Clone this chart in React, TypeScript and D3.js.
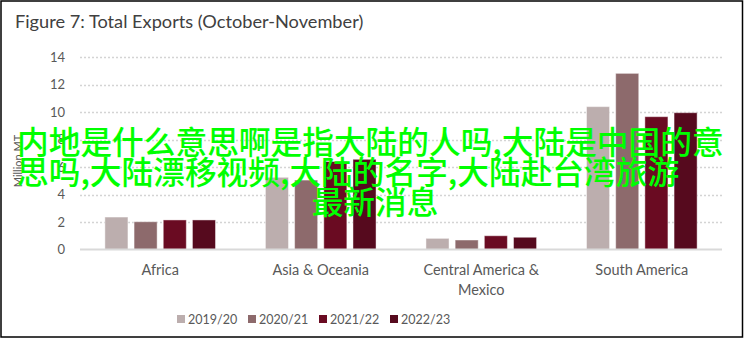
import React from "react";
import * as d3 from "d3";

const categories = ["Africa", "Asia & Oceania", "Central America & Mexico", "South America"];
const categoryLines = [["Africa"], ["Asia & Oceania"], ["Central America &", "Mexico"], ["South America"]];
const seriesNames = ["2019/20", "2020/21", "2021/22", "2022/23"];
const s2019 = [2.36, 5.25, 0.81, 10.39];
const s2020 = [2.02, 5.05, 0.69, 12.81];
const s2021 = [2.15, 6.4, 1.0, 9.66];
const s2022 = [2.15, 6.56, 0.89, 9.95];
const seriesValues = [s2019, s2020, s2021, s2022];
const colors = ["#bcaeae", "#8d6a6c", "#6a0b22", "#560a1e"];
const yTicks = [0, 2, 4, 6, 8, 10, 12, 14];
const title = "Figure 7: Total Exports (October-November)";
const yLabel = "Million MT";
const overlayLines = [
  "内地是什么意思啊是指大陆的人吗,大陆是中国的意",
  "思吗,大陆漂移视频,大陆的名字,大陆赴台湾旅游",
  "最新消息",
];

export default function App() {
  const W = 745, H = 340;
  const left = 80, right = 722, top = 57, bottom = 249.5;
  const x0 = d3.scaleBand<string>().domain(categories).range([left, right]).paddingInner(0.311).paddingOuter(0.155);
  const x1 = d3.scaleBand<string>().domain(seriesNames).range([0, x0.bandwidth()]).paddingInner(0.21);
  const y = d3.scaleLinear().domain([0, 14]).range([bottom, top]);
  const font = "Lato, 'Open Sans', sans-serif";
  const legendX = d3.scaleLinear().domain([0, 1]).range([177, 248]);

  return (
    <svg width={W} height={H} style={{ position: "absolute", left: 0, top: 0, background: "#fff" }}>
      <rect x={1} y={1} width={741.5} height={336} fill="#fff" stroke="#000" strokeWidth={1.5} />
      <text x={15} y={28} fontFamily={font} fontSize={18.2} fill="#404040">{title}</text>
      {yTicks.map((t) => (
        <g key={t}>
          {t > 0 && (
            <line x1={left} x2={right} y1={Math.round(y(t)) + 0.5} y2={Math.round(y(t)) + 0.5}
              stroke="#d4d4d4" strokeWidth={1.5} strokeDasharray="2 2" />
          )}
          <text x={65} y={y(t) + 4.5} textAnchor="end" fontFamily={font} fontSize={13} fill="#595959">{t}</text>
        </g>
      ))}
      <text transform={`translate(22,161) rotate(-90)`} textAnchor="middle" fontFamily={font} fontSize={11} fill="#595959">{yLabel}</text>
      {categories.map((c, ci) => (
        <g key={c}>
          {seriesNames.map((s, si) => {
            const v = seriesValues[si][ci];
            return (
              <rect key={s} x={(x0(c) as number) + (x1(s) as number)} y={y(v)} width={x1.bandwidth()}
                height={y(0) - y(v)} fill={colors[si]} stroke="#ffffff" strokeOpacity={0.45} strokeWidth={1} />
            );
          })}
          {categoryLines[ci].map((ln, li) => (
            <text key={li} x={(x0(c) as number) + x0.bandwidth() / 2} y={275 + li * 20} textAnchor="middle"
              fontFamily={font} fontSize={14.5} fill="#595959">{ln}</text>
          ))}
        </g>
      ))}
      <line x1={left} x2={right} y1={bottom} y2={bottom} stroke="#d9d9d9" strokeWidth={2} />
      {seriesNames.map((s, si) => (
        <g key={s} transform={`translate(${legendX(si)},0)`}>
          <rect x={0} y={315} width={8} height={8} fill={colors[si]} />
          <text x={11} y={324} fontFamily={font} fontSize={12.5} fill="#595959">{s}</text>
        </g>
      ))}
      {overlayLines.map((ln, i) => (
        <text key={i} x={i < 2 ? 17 : 375} y={154 + i * 30} textAnchor={i < 2 ? "start" : "middle"}
          fontFamily="'Noto Sans CJK SC', sans-serif" fontWeight={500} fontSize={31.7} fill="#00ff00">{ln}</text>
      ))}
    </svg>
  );
}
